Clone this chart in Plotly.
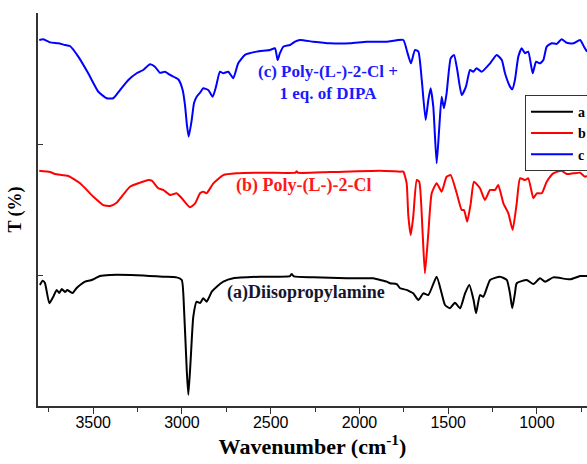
import plotly.graph_objects as go

# (a) Diisopropylamine
wn_a = [3800, 3785, 3772, 3747, 3725, 3706, 3691, 3677, 3659, 3646, 3631, 3616, 3593, 3574, 3546,
        3508, 3462, 3405, 3255, 3105, 3030, 3001, 2988, 2973, 2964, 2951, 2936, 2917, 2898, 2880,
        2861, 2832, 2804, 2767, 2711, 2560, 2391, 2382, 2369, 2260, 2072, 1922, 1884, 1846, 1828,
        1790, 1771, 1734, 1715, 1697, 1668, 1640, 1612, 1565, 1537, 1518, 1490, 1462, 1433, 1405,
        1381, 1357, 1343, 1321, 1302, 1264, 1208, 1170, 1152, 1139, 1124, 1114, 1058, 1020, 983,
        954, 908, 814, 757, 718]
t_a = [92.4, 95.7, 93.9, 78.4, 83.4, 88.6, 86.3, 89.3, 87.0, 88.6, 87.3, 86.3, 90.1, 92.4, 94.9,
       96.2, 99.2, 100.0, 99.8, 98.7, 98.2, 96.2, 73.3, 27.5, 8.5, 35.1, 68.2, 79.6, 78.6, 82.2,
       79.6, 87.3, 91.1, 94.9, 97.5, 98.7, 99.2, 100.8, 98.9, 98.2, 97.5, 97.5, 96.2, 94.9, 93.7,
       93.1, 89.9, 88.6, 87.3, 86.0, 80.9, 86.0, 84.7, 98.7, 86.0, 77.1, 74.6, 78.9, 74.6, 86.0,
       92.4, 80.9, 70.8, 84.7, 83.4, 96.2, 98.7, 96.2, 86.0, 74.6, 86.0, 93.7, 96.2, 93.1, 97.5,
       94.9, 98.2, 96.7, 99.2, 99.2]

# (b) Poly-(L-)-2-Cl
wn_b = [3804, 3743, 3715, 3640, 3574, 3499, 3443, 3405, 3368, 3293, 3236, 3190, 3170, 3133, 3105,
        3067, 3030, 3001, 2955, 2926, 2898, 2880, 2861, 2823, 2767, 2692, 2523, 2360, 2354, 2348,
        2166, 1884, 1771, 1753, 1734, 1725, 1711, 1697, 1677, 1663, 1644, 1631, 1612, 1593, 1565,
        1537, 1509, 1486, 1452, 1424, 1411, 1393, 1373, 1355, 1321, 1293, 1264, 1236, 1218, 1189,
        1161, 1137, 1114, 1095, 1067, 1049, 1020, 1001, 973, 945, 908, 861, 832, 795, 757,
        729, 718]
t_b = [179.6, 178.6, 177.1, 175.6, 170.0, 159.8, 153.4, 152.7, 155.2, 167.4, 170.5, 172.5, 172.0, 166.2, 164.9,
       161.1, 162.4, 158.6, 151.7, 154.7, 162.4, 163.6, 162.4, 170.0, 176.3, 177.6, 178.1, 178.1, 179.2, 178.1,
       178.6, 179.6, 178.9, 178.9, 170.0, 145.8, 130.5, 144.5, 172.5, 171.2, 131.8, 101.3, 131.8, 162.4, 170.0,
       163.6, 175.0, 176.3, 162.4, 149.6, 149.6, 140.7, 154.7, 171.2, 166.2, 157.3, 164.9, 164.9, 168.7, 154.7,
       147.1, 134.4, 154.7, 173.8, 172.5, 173.8, 158.6, 162.4, 162.4, 171.2, 177.6, 179.6, 177.1, 177.6, 178.1,
       175.0, 175.6]

# (c) Poly-(L-)-2-Cl + 1 eq. of DIPA
wn_c = [3804, 3781, 3743, 3697, 3659, 3631, 3584, 3528, 3471, 3424, 3387, 3349, 3302, 3255, 3218,
        3180, 3152, 3124, 3095, 3067, 3021, 2996, 2983, 2972, 2962, 2945, 2932, 2917, 2898, 2880,
        2852, 2827, 2808, 2786, 2767, 2739, 2711, 2683, 2645, 2579, 2504, 2476, 2461, 2448, 2429,
        2391, 2363, 2335, 2260, 2166, 2053, 1959, 1846, 1753, 1734, 1710, 1687, 1668, 1649, 1627,
        1612, 1599, 1584, 1565, 1550, 1537, 1524, 1509, 1486, 1467, 1449, 1424, 1400, 1377, 1359,
        1340, 1311, 1264, 1227, 1198, 1180, 1152, 1139, 1124, 1105, 1086, 1067, 1049, 1024, 1005,
        983, 964, 945, 917, 889, 861, 832, 795, 757, 735, 718]
t_c = [279.4, 279.9, 277.6, 276.9, 275.6, 274.8, 266.7, 254.0, 239.9, 234.9, 234.9, 241.2, 248.9, 254.0, 256.5,
       260.9, 259.0, 254.4, 255.2, 252.7, 249.4, 241.2, 229.8, 214.5, 205.6, 218.3, 231.3, 236.1, 239.2, 242.5,
       241.2, 236.1, 243.8, 255.2, 254.0, 255.2, 250.2, 261.6, 268.0, 270.5, 271.8, 273.1, 264.1, 269.3, 274.3,
       275.6, 278.1, 279.4, 278.1, 276.9, 276.9, 278.1, 278.1, 279.4, 271.8, 261.6, 271.8, 270.5, 248.9, 218.3,
       233.6, 242.5, 228.5, 185.3, 213.2, 236.1, 227.3, 238.7, 265.4, 268.0, 256.5, 237.4, 243.8, 256.5, 255.2,
       257.8, 255.2, 261.6, 268.0, 264.1, 254.0, 243.8, 241.8, 248.9, 266.7, 273.1, 269.3, 270.5, 254.0, 262.8,
       261.6, 264.1, 274.3, 276.9, 276.4, 279.9, 277.3, 276.9, 279.4, 274.3, 270.5]

x_range = [3811, 718]
x_ticks = [3500, 3000, 2500, 2000, 1500, 1000]
y_ticks = [0, 100, 200, 300]

SERIF = "Liberation Serif, Times New Roman, serif"
SANS = "Liberation Sans, Arial, sans-serif"

fig = go.Figure()
for name, xs, ys, col in [("a", wn_a, t_a, "#000000"),
                          ("b", wn_b, t_b, "#ff0000"),
                          ("c", wn_c, t_c, "#0000ff")]:
    fig.add_trace(go.Scatter(x=xs, y=ys, mode="lines", name=f"<b>{name}</b>",
                             line=dict(color=col, width=2, shape="spline", smoothing=0.5)))

labels = [
    (2177, 247.3, "(c) Poly-(L-)-2-Cl +<br>1 eq. of DIPA", "#1a1aff", 17),
    (2318, 168.0, "(b) Poly-(L-)-2-Cl", "#ff1a1a", 18),
    (2301, 86.3, "(a)Diisopropylamine", "#15152e", 18),
]
for x, y, txt, col, sz in labels:
    fig.add_annotation(x=x, y=y, text=f"<b>{txt}</b>", showarrow=False,
                       font=dict(family=SERIF, size=sz, color=col),
                       xanchor="center", yanchor="middle")

fig.update_layout(
    width=587, height=464,
    margin=dict(l=38, r=0, t=13, b=58, autoexpand=False),
    paper_bgcolor="white", plot_bgcolor="white",
    showlegend=True,
    legend=dict(x=0.887, y=0.791, xanchor="left", yanchor="top", itemwidth=42,
                bordercolor="#333333", borderwidth=1, bgcolor="white",
                font=dict(family=SERIF, size=14, color="#000000")),
    xaxis=dict(range=x_range, tickvals=x_ticks, ticks="outside", ticklen=6, tickwidth=1.2,
               tickcolor="#333333", showline=True, linecolor="#333333", linewidth=1.5,
               showgrid=False, zeroline=False, ticklabelstandoff=-5,
               tickfont=dict(family=SANS, size=16, color="#000000"),
               minor=dict(dtick=250, tick0=0, ticks="outside", ticklen=4, tickcolor="#333333"),
               title=dict(text="<b>Wavenumber (cm<sup>-1</sup>)</b>", standoff=4,
                          font=dict(family=SERIF, size=22, color="#000000"))),
    xaxis2=dict(range=x_range, overlaying="x", side="top", anchor="y", tickvals=x_ticks,
                ticks="inside", ticklen=5, tickcolor="#333333", showticklabels=False,
                showline=True, linecolor="#333333", linewidth=1.5, showgrid=False, zeroline=False,
                minor=dict(dtick=250, tick0=0, ticks="inside", ticklen=3, tickcolor="#333333")),
    yaxis=dict(range=[0, 300], tickvals=y_ticks, ticks="inside", ticklen=5, tickcolor="#333333",
               showticklabels=False, showline=True, linecolor="#333333", linewidth=1.5,
               showgrid=False, zeroline=False,
               title=dict(text="<b>T (%)</b>", standoff=10,
                          font=dict(family=SERIF, size=18, color="#000000"))),
)

fig.write_html("out.html")
